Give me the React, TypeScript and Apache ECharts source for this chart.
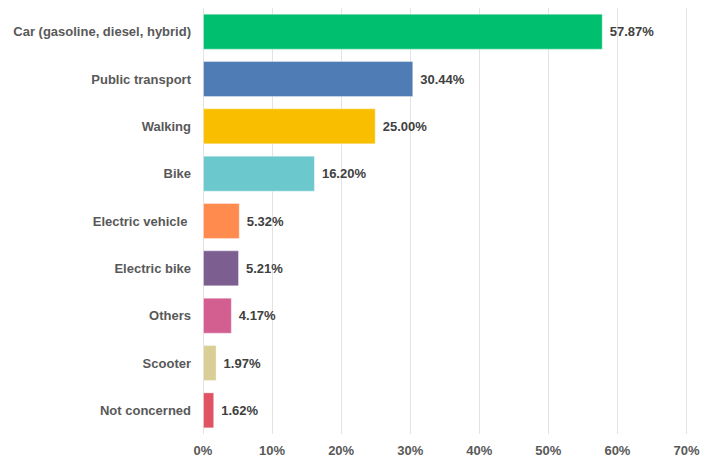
import React, { useEffect, useRef } from "react";
import * as echarts from "echarts";

const categories = [
  "Car (gasoline, diesel, hybrid)",
  "Public transport",
  "Walking",
  "Bike",
  "Electric vehicle ",
  "Electric bike",
  "Others",
  "Scooter",
  "Not concerned",
];
const values = [57.87, 30.44, 25.0, 16.2, 5.32, 5.21, 4.17, 1.97, 1.62];
const colors = [
  "#00BF6F",
  "#507CB6",
  "#F9BE00",
  "#6BC8CD",
  "#FF8B4F",
  "#7D5E91",
  "#D25F90",
  "#D8CE96",
  "#E05365",
];
const xTicks = [0, 10, 20, 30, 40, 50, 60, 70];

export default function App() {
  const ref = useRef<HTMLDivElement>(null);
  useEffect(() => {
    if (!ref.current) return;
    const chart = echarts.init(ref.current, null, { renderer: "svg" });
    const font = "Liberation Sans, Arial, Helvetica, sans-serif";
    chart.setOption({
      animation: false,
      backgroundColor: "#ffffff",
      grid: { left: 203, right: 27.5, top: 8, bottom: 22, containLabel: false },
      xAxis: {
        type: "value",
        min: xTicks[0],
        max: xTicks[xTicks.length - 1],
        interval: 10,
        axisLine: { show: false },
        axisTick: { show: false },
        splitLine: { show: true, lineStyle: { color: "#e3e3e3", width: 1 } },
        axisLabel: {
          formatter: (v: number) => `${v}%`,
          color: "#595959",
          fontSize: 13,
          fontWeight: "bold",
          fontFamily: font,
          margin: 10,
        },
      },
      yAxis: {
        type: "category",
        data: categories,
        inverse: true,
        axisLine: { show: false },
        axisTick: { show: false },
        axisLabel: {
          color: "#595959",
          fontSize: 13,
          fontWeight: "bold",
          fontFamily: font,
          margin: 12,
        },
      },
      series: [
        {
          type: "bar",
          barCategoryGap: "24%",
          data: values.map((v, i) => ({
            value: v,
            itemStyle: {
              color: colors[i],
              borderColor: "rgba(255,255,255,0.35)",
              borderWidth: 1,
            },
          })),
          label: {
            show: true,
            position: "right",
            distance: 7,
            formatter: (p: any) => `${p.value.toFixed(2)}%`,
            color: "#404040",
            fontSize: 13,
            fontWeight: "bold",
            fontFamily: font,
          },
        },
      ],
    });
    return () => chart.dispose();
  }, []);
  return (
    <div
      ref={ref}
      style={{ position: "fixed", left: 0, top: 0, width: 714, height: 457 }}
    />
  );
}
